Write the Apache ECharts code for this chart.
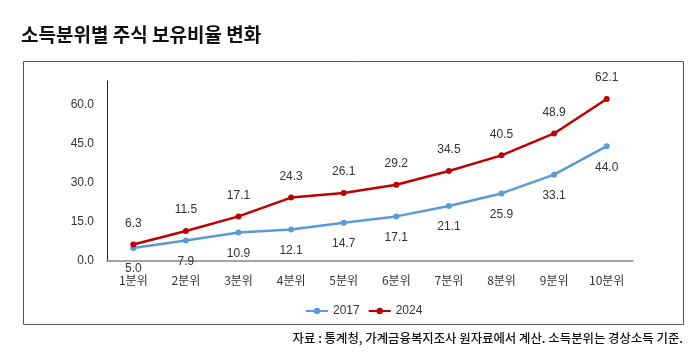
<!DOCTYPE html>
<html><head><meta charset="utf-8">
<script src="https://cdn.jsdelivr.net/npm/echarts@6/dist/echarts.min.js"></script>
<style>html,body{margin:0;padding:0;background:#fff}#c{width:700px;height:360px}</style>
</head><body><div id="c"></div>
<script>
var categories = ['1분위','2분위','3분위','4분위','5분위','6분위','7분위','8분위','9분위','10분위'];
var values2017 = [5.0, 7.9, 10.9, 12.1, 14.7, 17.1, 21.1, 25.9, 33.1, 44.0];
var values2024 = [6.3, 11.5, 17.1, 24.3, 26.1, 29.2, 34.5, 40.5, 48.9, 62.1];
var yTicks = [0, 15, 30, 45, 60];

var chart = echarts.init(document.getElementById('c'), null, {renderer:'canvas'});
var font = '"Noto Sans CJK KR", Arial, sans-serif';
chart.setOption({
  animation: false,
  textStyle: {fontFamily: font},
  title: {
    text: '소득분위별 주식 보유비율 변화',
    left: 16, top: 20,
    textStyle: {fontSize: 19, fontWeight: 'bold', color: '#111', fontFamily: font}
  },
  graphic: [
    {type:'rect', shape:{x:23.5, y:61.5, width:660, height:263}, style:{fill:'none', stroke:'#555', lineWidth:1}, z:-1},
    {type:'text', right: 17, top: 332, style:{text:'자료 : 통계청, 가계금융복지조사 원자료에서 계산. 소득분위는 경상소득 기준.', font:'500 12.4px "Noto Sans CJK KR"', fill:'#111'}}
  ],
  legend: {
    data: ['2017','2024'],
    left: 300, top: 300,
    itemWidth: 22, itemHeight: 8, itemGap: 8,
    textStyle: {fontSize: 12, color: '#333', fontFamily: 'Arial'}
  },
  grid: {left: 107, right: 67, top: 81, bottom: 99},
  xAxis: {
    type: 'category', data: categories, boundaryGap: true,
    axisLine: {lineStyle: {color: '#888', width: 1.5}},
    axisTick: {show: false},
    axisLabel: {color: '#333', fontSize: 12, margin: 13}
  },
  yAxis: {
    type: 'value', min: 0, max: 69, interval: 15,
    axisLine: {show: true, lineStyle: {color: '#222', width: 1}},
    axisTick: {show: false},
    splitLine: {show: false},
    axisLabel: {
      color: '#333', fontSize: 12, fontFamily: 'Arial', margin: 13,
      showMaxLabel: false,
      formatter: function(v){ return yTicks.indexOf(v) >= 0 ? v.toFixed(1) : ''; }
    }
  },
  series: [
    {
      name: '2017', type: 'line', data: values2017,
      symbol: 'circle', symbolSize: 6,
      lineStyle: {color: '#5B9BD5', width: 2.5},
      itemStyle: {color: '#5B9BD5'},
      label: {show: true, position: 'bottom', distance: 12, color: '#333', fontSize: 12, fontFamily: 'Arial',
        formatter: function(p){ return p.value.toFixed(1); }}
    },
    {
      name: '2024', type: 'line', data: values2024,
      symbol: 'circle', symbolSize: 6,
      lineStyle: {color: '#C00000', width: 2.5},
      itemStyle: {color: '#C00000'},
      label: {show: true, position: 'top', distance: 12, color: '#333', fontSize: 12, fontFamily: 'Arial',
        formatter: function(p){ return p.value.toFixed(1); }}
    }
  ]
});
</script></body></html>
